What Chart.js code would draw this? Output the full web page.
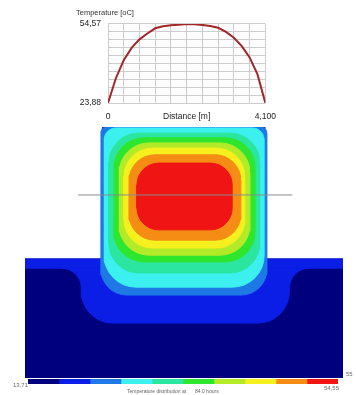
<!DOCTYPE html>
<html>
<head>
<meta charset="utf-8">
<script src="https://cdn.jsdelivr.net/npm/chart.js@4.4.1/dist/chart.umd.min.js"></script>
<style>
  body { margin:0; background:#fff; width:356px; height:395px; position:relative; overflow:hidden; font-family:"Liberation Sans", Arial, sans-serif; }
  canvas { position:absolute; }
  #prof  { left:70px; top:0; }
  #field { left:25px; top:127px; }
  #cbar  { left:28px; top:379px; }
  .lbl { position:absolute; color:#666; white-space:nowrap; line-height:1; }
</style>
</head>
<body>
<canvas id="prof" width="215" height="125"></canvas>
<canvas id="field" width="318" height="251"></canvas>
<canvas id="cbar" width="310" height="5"></canvas>
<div class="lbl" style="left:13px;top:382px;font-size:6px">13,71</div>
<div class="lbl" style="left:324px;top:385px;font-size:6px">54,55</div>
<div class="lbl" style="left:346px;top:371px;font-size:6px">55</div>
<div class="lbl" style="left:127px;top:389px;font-size:5px">Temperature distribution at</div>
<div class="lbl" style="left:195px;top:389px;font-size:5px">84.0 hours</div>
<script>
/* ---- profile along the section line ---- */
const distance    = [0, 0.205, 0.41, 0.615, 0.82, 1.025, 1.23, 1.435, 1.64, 1.845, 2.05,
                     2.255, 2.46, 2.665, 2.87, 3.075, 3.28, 3.485, 3.69, 3.895, 4.1];
const temperature = [23.88, 33.5, 40.5, 45.3, 48.6, 50.9, 52.9, 53.7, 54.1, 54.3, 54.57,
                     54.5, 54.2, 53.8, 53.1, 51.5, 49.2, 46.0, 41.6, 35.0, 23.88];
const tempMin = 23.88, tempMax = 54.57, distMax = 4.1;
const xTickLabels = ['0', '', '', '', '', 'Distance [m]', '', '', '', '', '4,100'];
const yTickLabels = ['23,88', '', '', '', '', '', '', '', '', '', '54,57'];

/* ---- temperature field (section, metres) ---- */
const levelBounds = [13.71, 17.79, 21.88, 25.96, 30.05, 34.13, 38.21, 42.30, 46.38, 50.47, 54.55];
const levelColors = ['#00007f', '#0a1ee6', '#1e78e6', '#3cf0f0', '#2ae6a0',
                     '#2ee62e', '#b4eb28', '#f5f01e', '#f58c14', '#f01414'];
const groundBox  = [-1.975, 6.076, 0, 3.013];
const columnBox  = [0, 4.1, 3.013, 6.354];
const blueBandY  = 2.78;
const blueBlob   = [-0.55, 4.72, 1.39];   // left, right, bottom
const blobCorner = 0.8, blobFlare = 0.5;
// isotherm boxes for levels 2..9 : left, right, bottom, top, top radius, bottom radius
const isoLevel  = [2, 3, 4, 5, 6, 7, 8, 9];
const isoLeft   = [-0.05, 0.03, 0.15, 0.28, 0.41, 0.53, 0.66, 0.86];
const isoRight  = [4.15, 4.08, 3.97, 3.85, 3.72, 3.59, 3.49, 3.27];
const isoBottom = [2.10, 2.30, 2.66, 2.94, 3.11, 3.29, 3.49, 3.75];
const isoTop    = [6.354, 6.33, 6.20, 6.08, 5.95, 5.82, 5.65, 5.44];
const isoRTop   = [0.15, 0.3, 0.75, 0.75, 0.75, 0.72, 0.65, 0.55];
const isoRBot   = [0.65, 0.8, 0.75, 0.75, 0.75, 0.72, 0.65, 0.55];
const sectionY = 4.633, sectionX = [-0.63, 4.79];

const font = 'Liberation Sans, Arial, sans-serif';

function arcPts(pts, cx, cy, r, a0, a1) {
  for (let k = 0; k <= 8; k++) {
    const a = a0 + (a1 - a0) * k / 8;
    pts.push({ x: cx + r * Math.cos(a), y: cy + r * Math.sin(a) });
  }
}
function roundedBox(x0, x1, y0, y1, rt, rb) {
  const pts = [];
  arcPts(pts, x1 - rt, y1 - rt, rt, 0, Math.PI / 2);
  arcPts(pts, x0 + rt, y1 - rt, rt, Math.PI / 2, Math.PI);
  arcPts(pts, x0 + rb, y0 + rb, rb, Math.PI, 1.5 * Math.PI);
  arcPts(pts, x1 - rb, y0 + rb, rb, 1.5 * Math.PI, 2 * Math.PI);
  pts.push(pts[0]);
  return pts;
}
function flaredBlob(x0, x1, y0, yTop, r, f) {
  const pts = [];
  arcPts(pts, x1 + f, yTop - f, f, Math.PI / 2, Math.PI);
  arcPts(pts, x1 - r, y0 + r, r, 2 * Math.PI, 1.5 * Math.PI);
  arcPts(pts, x0 + r, y0 + r, r, 1.5 * Math.PI, Math.PI);
  arcPts(pts, x0 - f, yTop - f, f, 0, Math.PI / 2);
  pts.push(pts[0]);
  return pts;
}
const rect = b => roundedBox(b[0], b[1], b[2], b[3], 0, 0);
const shape = (pts, color) => ({ data: pts, showLine: true, fill: 'shape', tension: 0,
  backgroundColor: color, borderColor: color, borderWidth: 1, pointRadius: 0 });

/* profile chart */
new Chart(document.getElementById('prof'), {
  type: 'line',
  data: { datasets: [{ data: distance.map((d, i) => ({ x: d, y: temperature[i] })),
    borderColor: '#a3262a', borderWidth: 2, pointRadius: 0, tension: 0, fill: false }] },
  options: {
    responsive: false, animation: false, events: [],
    layout: { padding: { left: 6, right: 15, top: 8, bottom: 0 } },
    plugins: {
      legend: { display: false }, tooltip: { enabled: false },
      title: { display: true, text: 'Temperature [oC]', align: 'start', color: '#333',
               font: { size: 7.5, family: font, weight: 'normal' }, padding: { top: 0, bottom: 7 } }
    },
    scales: {
      x: { type: 'linear', min: 0, max: distMax,
           afterBuildTicks: s => { s.ticks = xTickLabels.map((_, i) => ({ value: distMax * i / 10 })); },
           afterFit: s => { s.height = 22; },
           ticks: { autoSkip: false, maxRotation: 0, padding: 9, color: '#222',
                    font: { size: 8.5, family: font }, callback: (v, i) => xTickLabels[i] },
           grid: { color: '#cdcdcd', drawTicks: false }, border: { display: false } },
      y: { min: tempMin, max: tempMax,
           afterBuildTicks: s => { s.ticks = yTickLabels.map((_, i) => ({ value: tempMin + (tempMax - tempMin) * i / 10 })); },
           afterFit: s => { s.width = 32; },
           ticks: { autoSkip: false, padding: 7, color: '#222',
                    font: { size: 8.5, family: font }, callback: (v, i) => yTickLabels[i] },
           grid: { color: '#cdcdcd', drawTicks: false }, border: { display: false } }
    }
  }
});

/* temperature field */
const fieldSets = [];
fieldSets.push({ data: sectionX.map(x => ({ x, y: sectionY })), showLine: true, fill: false,
  borderColor: '#8a8a8a', borderWidth: 1, pointRadius: 0 });
for (let k = isoLevel.length - 1; k >= 0; k--) {
  fieldSets.push(shape(roundedBox(isoLeft[k], isoRight[k], isoBottom[k], isoTop[k], isoRTop[k], isoRBot[k]),
                       levelColors[isoLevel[k]]));
}
fieldSets.push(shape(rect(columnBox), levelColors[1]));
fieldSets.push(shape(rect([groundBox[0], groundBox[1], blueBandY, groundBox[3]]), levelColors[1]));
fieldSets.push(shape(flaredBlob(blueBlob[0], blueBlob[1], blueBlob[2], blueBandY, blobCorner, blobFlare), levelColors[1]));
fieldSets.push(shape(rect(groundBox), levelColors[0]));

new Chart(document.getElementById('field'), {
  type: 'scatter',
  data: { datasets: fieldSets },
  options: {
    responsive: false, animation: false, events: [],
    layout: { padding: 0 },
    plugins: { legend: { display: false }, tooltip: { enabled: false } },
    scales: {
      x: { type: 'linear', display: false, min: groundBox[0], max: groundBox[1] },
      y: { type: 'linear', display: false, min: groundBox[2], max: columnBox[3] }
    }
  }
});

/* colour scale */
new Chart(document.getElementById('cbar'), {
  type: 'bar',
  data: { labels: ['T'], datasets: levelColors.map((c, i) => ({
    data: [[levelBounds[i], levelBounds[i + 1]]], backgroundColor: c,
    barPercentage: 1, categoryPercentage: 1, grouped: false, borderWidth: 0 })) },
  options: {
    indexAxis: 'y', responsive: false, animation: false, events: [],
    layout: { padding: 0 },
    plugins: { legend: { display: false }, tooltip: { enabled: false } },
    scales: {
      x: { display: false, min: levelBounds[0], max: levelBounds[levelBounds.length - 1] },
      y: { display: false }
    }
  }
});
</script>
</body>
</html>
